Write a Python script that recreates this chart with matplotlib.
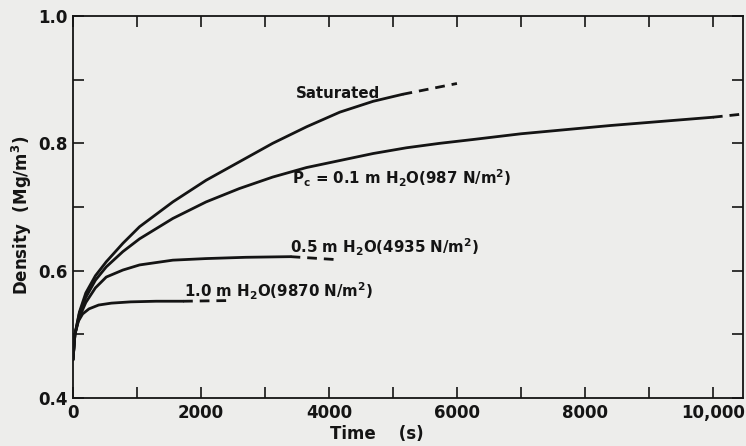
import numpy as np
import matplotlib.pyplot as plt

# Densification curves (time in s, density in Mg/m^3)
sat_t = [0, 30, 100, 200, 350, 520, 780, 1040, 1560, 2080, 2600, 3120, 3650, 4170, 4690, 5150]
sat_rho = [0.46, 0.50, 0.535, 0.565, 0.592, 0.614, 0.643, 0.669, 0.708, 0.742, 0.771, 0.800, 0.826, 0.849, 0.866, 0.877]
sat_dash_t = [5150, 6000]
sat_dash_rho = [0.877, 0.894]

p01_t = [0, 30, 100, 200, 350, 520, 780, 1040, 1560, 2080, 2600, 3120, 3650, 4170, 4690,
         5210, 5730, 6250, 7000, 8400, 10000]
p01_rho = [0.46, 0.50, 0.533, 0.558, 0.585, 0.606, 0.630, 0.650, 0.682, 0.708, 0.729, 0.747, 0.762, 0.773, 0.784,
           0.793, 0.800, 0.806, 0.815, 0.828, 0.841]
p01_dash_t = [10000, 10470]
p01_dash_rho = [0.841, 0.846]

p05_t = [0, 30, 100, 200, 350, 520, 780, 1040, 1560, 2080, 2700, 3400]
p05_rho = [0.46, 0.50, 0.527, 0.550, 0.573, 0.590, 0.601, 0.609, 0.6165, 0.619, 0.621, 0.622]
p05_dash_t = [3400, 4170]
p05_dash_rho = [0.622, 0.617]

p10_t = [0, 30, 80, 150, 250, 400, 600, 900, 1300, 1720]
p10_rho = [0.46, 0.50, 0.52, 0.532, 0.540, 0.546, 0.549, 0.551, 0.552, 0.552]
p10_dash_t = [1720, 2400]
p10_dash_rho = [0.552, 0.553]

bg = '#ededeb'
ink = '#141414'

fig = plt.figure(figsize=(7.46, 4.46), dpi=100, facecolor=bg)
ax = fig.add_axes([73/746, 1-398/446, 670/746, 382/446], facecolor=bg)

for t, r, dt, dr in [(sat_t, sat_rho, sat_dash_t, sat_dash_rho),
                     (p01_t, p01_rho, p01_dash_t, p01_dash_rho),
                     (p05_t, p05_rho, p05_dash_t, p05_dash_rho),
                     (p10_t, p10_rho, p10_dash_t, p10_dash_rho)]:
    ax.plot(t, r, color=ink, lw=2.0, solid_capstyle='round', solid_joinstyle='round')
    ax.plot(dt, dr, color=ink, lw=2.0, ls=(0, (3.5, 2.5)))

ax.set_xlim(0, 10470)
ax.set_ylim(0.4, 1.0)

ax.set_xticks(np.arange(0, 10001, 1000))
ax.set_xticklabels(['0', '', '2000', '', '4000', '', '6000', '', '8000', '', '10,000'])
ax.set_yticks([0.4, 0.5, 0.6, 0.7, 0.8, 0.9, 1.0])
ax.set_yticklabels(['0.4', '', '0.6', '', '0.8', '', '1.0'])
ax.tick_params(direction='in', length=8, width=1.2, color=ink,
               top=True, right=True, labelsize=12, labelcolor=ink, pad=4)
for lab in ax.get_xticklabels() + ax.get_yticklabels():
    lab.set_fontweight('bold')
for s in ax.spines.values():
    s.set_linewidth(1.3)
    s.set_color(ink)

kw = dict(fontsize=10.8, fontweight='bold', color=ink, va='center')
ax.text(3480, 0.879, 'Saturated', **kw)
ax.text(3420, 0.745, r'P$_\mathregular{c}$ = 0.1 m H$_\mathregular{2}$O(987 N/m$^\mathregular{2}$)', **kw)
ax.text(3390, 0.637, r'0.5 m H$_\mathregular{2}$O(4935 N/m$^\mathregular{2}$)', **kw)
ax.text(1740, 0.567, r'1.0 m H$_\mathregular{2}$O(9870 N/m$^\mathregular{2}$)', **kw)

fig.text(330/746, 1-434/446, 'Time    (s)', fontsize=12, fontweight='bold',
         color=ink, ha='left', va='center')
fig.text(22/746, 1-215/446, r'Density  (Mg/m$^\mathregular{3}$)', fontsize=12,
         fontweight='bold', color=ink, rotation=90, ha='center', va='center')

fig.savefig('out.png', dpi=100, facecolor=bg)
